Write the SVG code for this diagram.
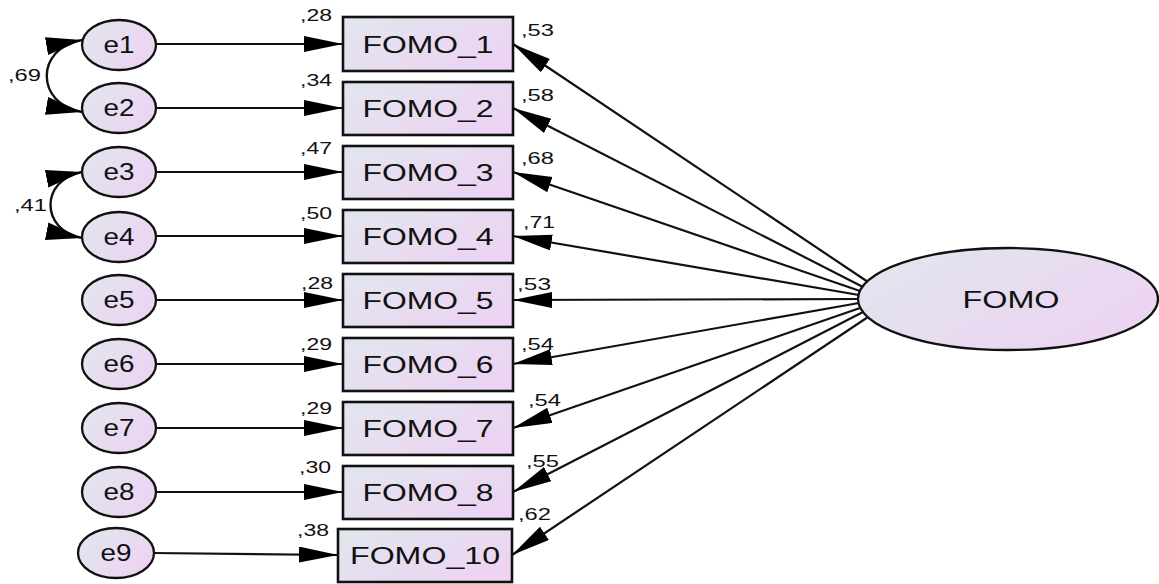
<svg xmlns="http://www.w3.org/2000/svg" width="1159" height="584" viewBox="0 0 1159 584">
  <style>
    text { font-family: "Liberation Sans", Arial, sans-serif; fill: #111; }
    .obs { stroke: #111; stroke-width: 2.6; fill: url(#fillGrad); }
    .lat { stroke: #111; stroke-width: 2.3; fill: url(#fillGrad); }
    .big { font-size: 24px; text-anchor: middle; }
    .num { font-size: 17px; }
    .path { stroke: #111; stroke-width: 2.2; fill: none; marker-end: url(#arrow); }
    .cov { stroke: #111; stroke-width: 2.4; fill: none; marker-start: url(#covArrow); marker-end: url(#covArrow); }
  </style>
  <defs>
    <linearGradient id="fillGrad" x1="0" y1="0" x2="1" y2="0.6">
      <stop offset="0" stop-color="#e1e7ee"/>
      <stop offset="1" stop-color="#ecd4f2"/>
    </linearGradient>
    <marker id="arrow" markerUnits="userSpaceOnUse" markerWidth="40" markerHeight="18" refX="39" refY="8" orient="auto-start-reverse">
      <path d="M0,0 L39,8 L0,16 Z" fill="#000"/>
    </marker>
    <marker id="covArrow" markerUnits="userSpaceOnUse" markerWidth="40" markerHeight="20" refX="36" refY="9" orient="auto-start-reverse">
      <path d="M0,0 L36,9 L0,18 Z" fill="#000"/>
    </marker>
  </defs>

  <!-- connectors -->
  <g id="connectors">
    <!-- error terms to indicators -->
    <line class="path" x1="156" y1="44" x2="343" y2="44"/>
    <line class="path" x1="156" y1="108" x2="343" y2="108"/>
    <line class="path" x1="156" y1="172" x2="343" y2="172"/>
    <line class="path" x1="156" y1="236" x2="343" y2="236"/>
    <line class="path" x1="156" y1="300" x2="343" y2="300"/>
    <line class="path" x1="156" y1="364" x2="343" y2="364"/>
    <line class="path" x1="156" y1="428" x2="343" y2="428"/>
    <line class="path" x1="156" y1="492" x2="343" y2="492"/>
    <line class="path" x1="153" y1="553" x2="338" y2="555"/>
    <!-- latent factor loadings -->
    <line class="path" x1="868" y1="282" x2="513" y2="44"/>
    <line class="path" x1="863" y1="287" x2="513" y2="108"/>
    <line class="path" x1="860" y1="291" x2="513" y2="172"/>
    <line class="path" x1="859" y1="295" x2="513" y2="236"/>
    <line class="path" x1="858" y1="299" x2="513" y2="300"/>
    <line class="path" x1="859" y1="303" x2="513" y2="364"/>
    <line class="path" x1="860" y1="308" x2="513" y2="428"/>
    <line class="path" x1="863" y1="312" x2="513" y2="492"/>
    <line class="path" x1="868" y1="317" x2="512" y2="555"/>
    <!-- covariances -->
    <path class="cov" d="M82,40 C35,48 35,104 82,112"/>
    <path class="cov" d="M82,172 C40,180 40,230 82,238"/>
  </g>

  <!-- covariance labels -->
  <text class="num" x="8" y="81" textLength="33" lengthAdjust="spacingAndGlyphs">,69</text>
  <text class="num" x="14" y="211" textLength="33" lengthAdjust="spacingAndGlyphs">,41</text>

  <!-- error terms -->
  <g id="e1"><ellipse class="lat" cx="119" cy="45" rx="37" ry="25"/><text class="big" x="119" y="53" textLength="31" lengthAdjust="spacingAndGlyphs">e1</text></g>
  <g id="e2"><ellipse class="lat" cx="119" cy="108" rx="37" ry="25"/><text class="big" x="119" y="116" textLength="31" lengthAdjust="spacingAndGlyphs">e2</text></g>
  <g id="e3"><ellipse class="lat" cx="119" cy="172" rx="37" ry="25"/><text class="big" x="119" y="180" textLength="31" lengthAdjust="spacingAndGlyphs">e3</text></g>
  <g id="e4"><ellipse class="lat" cx="119" cy="237" rx="37" ry="25"/><text class="big" x="119" y="245" textLength="31" lengthAdjust="spacingAndGlyphs">e4</text></g>
  <g id="e5"><ellipse class="lat" cx="119" cy="300" rx="37" ry="25"/><text class="big" x="119" y="308" textLength="31" lengthAdjust="spacingAndGlyphs">e5</text></g>
  <g id="e6"><ellipse class="lat" cx="119" cy="364" rx="37" ry="25"/><text class="big" x="119" y="372" textLength="31" lengthAdjust="spacingAndGlyphs">e6</text></g>
  <g id="e7"><ellipse class="lat" cx="119" cy="428" rx="37" ry="25"/><text class="big" x="119" y="436" textLength="31" lengthAdjust="spacingAndGlyphs">e7</text></g>
  <g id="e8"><ellipse class="lat" cx="119" cy="492" rx="37" ry="25"/><text class="big" x="119" y="500" textLength="31" lengthAdjust="spacingAndGlyphs">e8</text></g>
  <g id="e9"><ellipse class="lat" cx="116" cy="553" rx="38" ry="25"/><text class="big" x="116" y="561" textLength="31" lengthAdjust="spacingAndGlyphs">e9</text></g>

  <!-- indicators -->
  <g id="FOMO_1"><rect class="obs" x="343" y="17" width="170" height="54"/><text class="big" x="428" y="53" textLength="131" lengthAdjust="spacingAndGlyphs">FOMO_1</text></g>
  <g id="FOMO_2"><rect class="obs" x="343" y="82" width="170" height="53"/><text class="big" x="428" y="117" textLength="131" lengthAdjust="spacingAndGlyphs">FOMO_2</text></g>
  <g id="FOMO_3"><rect class="obs" x="343" y="146" width="170" height="53"/><text class="big" x="428" y="181" textLength="131" lengthAdjust="spacingAndGlyphs">FOMO_3</text></g>
  <g id="FOMO_4"><rect class="obs" x="343" y="210" width="170" height="53"/><text class="big" x="428" y="245" textLength="131" lengthAdjust="spacingAndGlyphs">FOMO_4</text></g>
  <g id="FOMO_5"><rect class="obs" x="343" y="274" width="170" height="53"/><text class="big" x="428" y="309" textLength="131" lengthAdjust="spacingAndGlyphs">FOMO_5</text></g>
  <g id="FOMO_6"><rect class="obs" x="343" y="338" width="170" height="53"/><text class="big" x="428" y="373" textLength="131" lengthAdjust="spacingAndGlyphs">FOMO_6</text></g>
  <g id="FOMO_7"><rect class="obs" x="343" y="402" width="170" height="53"/><text class="big" x="428" y="437" textLength="131" lengthAdjust="spacingAndGlyphs">FOMO_7</text></g>
  <g id="FOMO_8"><rect class="obs" x="343" y="466" width="170" height="53"/><text class="big" x="428" y="501" textLength="131" lengthAdjust="spacingAndGlyphs">FOMO_8</text></g>
  <g id="FOMO_10"><rect class="obs" x="338" y="529" width="174" height="53"/><text class="big" x="425" y="564" textLength="150" lengthAdjust="spacingAndGlyphs">FOMO_10</text></g>

  <!-- squared multiple correlations -->
  <g id="r2-labels">
    <text class="num" x="300" y="21" textLength="32" lengthAdjust="spacingAndGlyphs">,28</text>
    <text class="num" x="300" y="86" textLength="32" lengthAdjust="spacingAndGlyphs">,34</text>
    <text class="num" x="300" y="154" textLength="32" lengthAdjust="spacingAndGlyphs">,47</text>
    <text class="num" x="300" y="219" textLength="32" lengthAdjust="spacingAndGlyphs">,50</text>
    <text class="num" x="301" y="289" textLength="32" lengthAdjust="spacingAndGlyphs">,28</text>
    <text class="num" x="300" y="350" textLength="32" lengthAdjust="spacingAndGlyphs">,29</text>
    <text class="num" x="300" y="414" textLength="32" lengthAdjust="spacingAndGlyphs">,29</text>
    <text class="num" x="299" y="473" textLength="32" lengthAdjust="spacingAndGlyphs">,30</text>
    <text class="num" x="297" y="536" textLength="32" lengthAdjust="spacingAndGlyphs">,38</text>
  </g>

  <!-- standardized loadings -->
  <g id="loading-labels">
    <text class="num" x="521" y="36" textLength="33" lengthAdjust="spacingAndGlyphs">,53</text>
    <text class="num" x="521" y="101" textLength="33" lengthAdjust="spacingAndGlyphs">,58</text>
    <text class="num" x="521" y="164" textLength="33" lengthAdjust="spacingAndGlyphs">,68</text>
    <text class="num" x="523" y="228" textLength="32" lengthAdjust="spacingAndGlyphs">,71</text>
    <text class="num" x="517" y="290" textLength="34" lengthAdjust="spacingAndGlyphs">,53</text>
    <text class="num" x="521" y="350" textLength="33" lengthAdjust="spacingAndGlyphs">,54</text>
    <text class="num" x="528" y="406" textLength="33" lengthAdjust="spacingAndGlyphs">,54</text>
    <text class="num" x="526" y="467" textLength="33" lengthAdjust="spacingAndGlyphs">,55</text>
    <text class="num" x="518" y="520" textLength="33" lengthAdjust="spacingAndGlyphs">,62</text>
  </g>

  <!-- latent factor -->
  <g id="FOMO"><ellipse class="lat" cx="1008" cy="299" rx="150" ry="51"/><text class="big" x="1011" y="308" textLength="97" lengthAdjust="spacingAndGlyphs">FOMO</text></g>
</svg>
